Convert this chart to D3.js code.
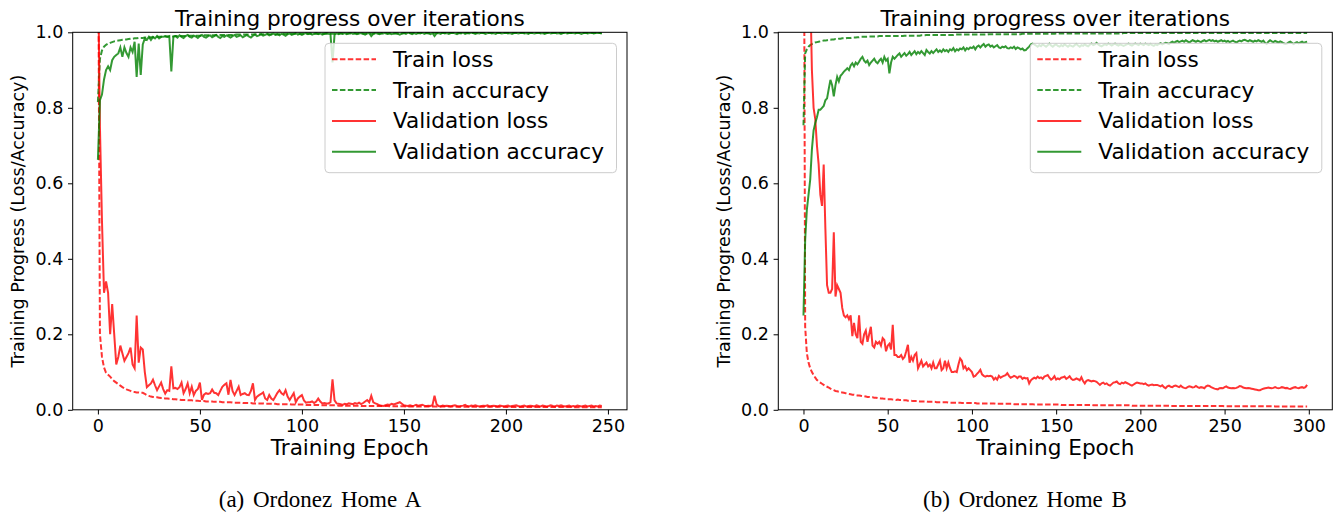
<!DOCTYPE html>
<html>
<head>
<meta charset="utf-8">
<script src="https://cdn.jsdelivr.net/npm/d3@7"></script>
<style>
  body { margin: 0; background: #fff; }
  text { font-family: "DejaVu Sans", sans-serif; fill: #000; }
</style>
</head>
<body>
<svg id="chart" width="1341" height="514"></svg>
<script>
/* DATA */
const yTicks = [0, 0.2, 0.4, 0.6, 0.8, 1.0];
const xTicksA = [0, 50, 100, 150, 200, 250];
const xTicksB = [0, 50, 100, 150, 200, 250, 300];
const seriesNames = ['Train loss', 'Train accuracy', 'Validation loss', 'Validation accuracy'];
const captions = ['(a) Ordonez Home A', '(b) Ordonez Home B'];
const titleText = 'Training progress over iterations';

// Home A, epochs 0..247
const homeA_trainLoss = [
  1.45,0.2,0.14,0.112,0.098,0.093,0.088,0.081,0.076,0.072,
  0.068,0.064,0.06,0.057,0.054,0.052,0.05,0.048,0.047,0.046,
  0.046,0.045,0.045,0.042,0.039,0.037,0.035,0.034,0.033,0.033,
  0.032,0.031,0.031,0.03,0.03,0.029,0.029,0.028,0.028,0.027,
  0.027,0.026,0.026,0.026,0.025,0.025,0.025,0.024,0.024,0.024,
  0.023,0.023,0.023,0.022,0.022,0.022,0.022,0.021,0.021,0.021,
  0.021,0.02,0.02,0.02,0.02,0.02,0.019,0.019,0.019,0.019,
  0.019,0.018,0.018,0.018,0.018,0.018,0.017,0.017,0.017,0.017,
  0.017,0.017,0.016,0.016,0.016,0.016,0.016,0.016,0.015,0.015,
  0.015,0.015,0.015,0.015,0.015,0.014,0.014,0.014,0.014,0.014,
  0.014,0.014,0.013,0.013,0.013,0.013,0.013,0.013,0.013,0.012,
  0.012,0.012,0.012,0.012,0.012,0.012,0.012,0.012,0.011,0.011,
  0.011,0.011,0.011,0.011,0.011,0.011,0.011,0.011,0.011,0.01,
  0.01,0.01,0.01,0.01,0.01,0.01,0.01,0.01,0.01,0.01,
  0.01,0.01,0.01,0.0095,0.0095,0.0095,0.0095,0.0095,0.0095,0.0095,
  0.0095,0.009,0.009,0.009,0.009,0.009,0.009,0.009,0.009,0.009,
  0.009,0.009,0.009,0.0085,0.0085,0.0085,0.0085,0.0085,0.0085,0.0085,
  0.0085,0.0085,0.0085,0.0085,0.0085,0.008,0.008,0.008,0.008,0.008,
  0.008,0.008,0.008,0.008,0.008,0.008,0.008,0.008,0.008,0.008,
  0.0078,0.0078,0.0078,0.0078,0.0078,0.0078,0.0078,0.0078,0.0078,0.0078,
  0.0076,0.0076,0.0076,0.0076,0.0076,0.0076,0.0076,0.0076,0.0076,0.0076,
  0.0075,0.0075,0.0074,0.0074,0.0074,0.0074,0.0073,0.0073,0.0073,0.0073,
  0.0072,0.0072,0.0072,0.0072,0.0072,0.0072,0.0072,0.0072,0.0072,0.0072,
  0.0071,0.0071,0.0071,0.0071,0.007,0.007,0.007,0.007,0.007,0.007,
  0.0069,0.0069,0.0069,0.0068,0.0068,0.0068,0.0068,0.0068
];
const homeA_trainAcc = [
  0.815,0.93,0.952,0.962,0.967,0.97,0.972,0.974,0.976,0.977,
  0.978,0.979,0.98,0.981,0.981,0.982,0.983,0.983,0.984,0.984,
  0.985,0.985,0.985,0.986,0.986,0.986,0.987,0.987,0.987,0.988,
  0.988,0.988,0.988,0.989,0.989,0.989,0.989,0.989,0.99,0.99,
  0.99,0.99,0.99,0.99,0.991,0.991,0.991,0.991,0.991,0.991,
  0.991,0.992,0.992,0.992,0.992,0.992,0.992,0.992,0.993,0.993,
  0.993,0.993,0.993,0.993,0.993,0.993,0.993,0.994,0.994,0.994,
  0.994,0.994,0.994,0.994,0.994,0.994,0.994,0.995,0.995,0.995,
  0.995,0.995,0.995,0.995,0.995,0.995,0.995,0.995,0.995,0.995,
  0.996,0.996,0.996,0.996,0.996,0.996,0.996,0.996,0.996,0.996,
  0.996,0.996,0.996,0.996,0.996,0.996,0.996,0.996,0.996,0.996,
  0.996,0.996,0.996,0.996,0.996,0.996,0.996,0.997,0.997,0.997,
  0.997,0.997,0.997,0.997,0.997,0.997,0.997,0.997,0.997,0.997,
  0.997,0.997,0.997,0.997,0.997,0.997,0.997,0.997,0.997,0.997,
  0.997,0.997,0.997,0.997,0.997,0.997,0.997,0.997,0.997,0.997,
  0.998,0.998,0.998,0.998,0.998,0.998,0.998,0.998,0.998,0.998,
  0.998,0.998,0.998,0.998,0.998,0.998,0.998,0.998,0.998,0.998,
  0.998,0.998,0.998,0.998,0.998,0.998,0.998,0.998,0.998,0.998,
  0.998,0.998,0.998,0.998,0.998,0.998,0.998,0.998,0.998,0.998,
  0.998,0.998,0.998,0.998,0.998,0.998,0.998,0.998,0.998,0.998,
  0.998,0.998,0.998,0.998,0.998,0.998,0.998,0.998,0.998,0.998,
  0.998,0.998,0.998,0.998,0.998,0.998,0.998,0.998,0.998,0.998,
  0.998,0.998,0.998,0.998,0.998,0.998,0.998,0.998,0.998,0.998,
  0.998,0.998,0.998,0.998,0.998,0.998,0.998,0.998,0.998,0.998,
  0.998,0.998,0.998,0.998,0.998,0.998,0.998,0.998
];
const homeA_valLoss = [
  1.2,0.75,0.5,0.31,0.34,0.31,0.2,0.28,0.2,0.12,
  0.14,0.17,0.15,0.13,0.14,0.15,0.165,0.12,0.11,0.25,
  0.125,0.165,0.16,0.1,0.06,0.065,0.07,0.08,0.065,0.052,
  0.062,0.072,0.055,0.043,0.052,0.05,0.115,0.057,0.058,0.055,
  0.06,0.072,0.044,0.055,0.07,0.044,0.061,0.039,0.05,0.055,
  0.072,0.026,0.04,0.044,0.042,0.044,0.054,0.045,0.044,0.039,
  0.05,0.061,0.066,0.07,0.04,0.079,0.05,0.039,0.05,0.061,
  0.039,0.042,0.044,0.04,0.039,0.05,0.07,0.026,0.035,0.039,
  0.042,0.046,0.03,0.026,0.039,0.03,0.026,0.035,0.045,0.052,
  0.044,0.04,0.052,0.035,0.026,0.035,0.044,0.02,0.03,0.035,
  0.039,0.025,0.019,0.02,0.02,0.022,0.018,0.022,0.03,0.022,
  0.017,0.018,0.017,0.017,0.02,0.081,0.025,0.017,0.016,0.015,
  0.013,0.016,0.015,0.017,0.016,0.015,0.018,0.016,0.019,0.015,
  0.018,0.022,0.026,0.02,0.037,0.02,0.017,0.015,0.012,0.011,
  0.01,0.012,0.014,0.013,0.016,0.014,0.016,0.018,0.02,0.016,
  0.012,0.011,0.01,0.012,0.01,0.011,0.013,0.011,0.012,0.013,
  0.011,0.01,0.011,0.01,0.012,0.037,0.015,0.01,0.009,0.011,
  0.01,0.011,0.01,0.009,0.011,0.012,0.01,0.009,0.01,0.011,
  0.013,0.01,0.009,0.011,0.01,0.012,0.01,0.009,0.01,0.011,
  0.01,0.012,0.009,0.01,0.011,0.01,0.009,0.011,0.01,0.009,
  0.01,0.011,0.009,0.01,0.011,0.012,0.01,0.009,0.01,0.011,
  0.009,0.01,0.011,0.01,0.009,0.012,0.01,0.009,0.011,0.01,
  0.009,0.01,0.012,0.01,0.009,0.011,0.01,0.012,0.01,0.009,
  0.01,0.011,0.009,0.01,0.009,0.011,0.01,0.009,0.01,0.011,
  0.009,0.01,0.011,0.009,0.01,0.009,0.011,0.01
];
const homeA_valAcc = [
  0.662,0.82,0.835,0.875,0.9,0.91,0.9,0.926,0.935,0.94,
  0.944,0.96,0.935,0.96,0.945,0.935,0.96,0.948,0.975,0.882,
  0.97,0.887,0.968,0.984,0.98,0.988,0.98,0.988,0.984,0.99,
  0.984,0.988,0.988,0.99,0.988,0.99,0.896,0.988,0.99,0.986,
  0.992,0.988,0.985,0.99,0.993,0.988,0.986,0.991,0.989,0.985,
  0.99,0.993,0.988,0.986,0.99,0.992,0.987,0.99,0.993,0.988,
  0.985,0.99,0.988,0.992,0.989,0.986,0.99,0.993,0.988,0.99,
  0.992,0.987,0.99,0.993,0.989,0.986,0.991,0.994,0.99,0.992,
  0.995,0.991,0.993,0.996,0.992,0.994,0.997,0.993,0.995,0.992,
  0.996,0.994,0.991,0.995,0.997,0.993,0.995,0.998,0.994,0.996,
  0.993,0.996,0.998,0.995,0.997,0.994,0.996,0.998,0.995,0.997,
  0.994,0.996,0.998,0.996,0.995,0.92,0.994,0.997,0.995,0.998,
  0.996,0.998,0.995,0.997,0.999,0.996,0.998,0.995,0.997,0.998,
  0.996,0.994,0.997,0.998,0.99,0.996,0.998,0.997,0.995,0.998,
  0.997,0.999,0.996,0.998,0.995,0.997,0.998,0.996,0.994,0.997,
  0.998,0.996,0.999,0.997,0.995,0.998,0.996,0.998,0.997,0.999,
  0.996,0.998,0.997,0.995,0.998,0.99,0.997,0.998,0.996,0.999,
  0.997,0.998,0.996,0.998,0.999,0.997,0.995,0.998,0.997,0.999,
  0.996,0.998,0.997,0.999,0.998,0.996,0.998,0.997,0.999,0.998,
  0.996,0.998,0.999,0.997,0.998,0.996,0.999,0.998,0.997,0.998,
  0.999,0.997,0.998,0.996,0.998,0.999,0.997,0.998,0.999,0.997,
  0.998,0.996,0.999,0.998,0.997,0.998,0.999,0.997,0.998,0.996,
  0.998,0.999,0.997,0.998,0.999,0.997,0.998,0.996,0.998,0.999,
  0.997,0.998,0.999,0.998,0.997,0.999,0.998,0.996,0.998,0.999,
  0.997,0.998,0.999,0.997,0.998,0.999,0.998,0.997
];

// Home B, epochs 0..299
const homeB_trainLoss = [
  1.8,0.22,0.15,0.125,0.11,0.1,0.092,0.085,0.079,0.075,
  0.072,0.069,0.066,0.063,0.061,0.059,0.056,0.054,0.052,0.05,
  0.049,0.048,0.047,0.046,0.045,0.044,0.043,0.042,0.041,0.04,
  0.04,0.039,0.038,0.038,0.037,0.036,0.036,0.035,0.034,0.034,
  0.033,0.033,0.032,0.032,0.031,0.031,0.03,0.03,0.029,0.029,
  0.028,0.028,0.028,0.027,0.027,0.026,0.027,0.026,0.026,0.025,
  0.025,0.025,0.024,0.024,0.024,0.023,0.023,0.023,0.023,0.022,
  0.022,0.022,0.022,0.022,0.021,0.021,0.021,0.021,0.021,0.02,
  0.02,0.02,0.02,0.02,0.02,0.02,0.019,0.019,0.019,0.019,
  0.019,0.019,0.019,0.019,0.018,0.018,0.018,0.018,0.018,0.018,
  0.018,0.018,0.018,0.017,0.017,0.017,0.017,0.017,0.017,0.017,
  0.017,0.017,0.017,0.017,0.016,0.016,0.016,0.016,0.016,0.016,
  0.016,0.016,0.016,0.016,0.016,0.015,0.015,0.015,0.015,0.015,
  0.015,0.015,0.015,0.015,0.015,0.015,0.015,0.014,0.014,0.014,
  0.014,0.014,0.014,0.014,0.014,0.014,0.014,0.014,0.014,0.014,
  0.014,0.014,0.014,0.013,0.013,0.013,0.013,0.013,0.013,0.013,
  0.013,0.013,0.013,0.013,0.013,0.013,0.013,0.013,0.013,0.013,
  0.013,0.013,0.012,0.012,0.012,0.012,0.012,0.012,0.012,0.012,
  0.012,0.012,0.012,0.012,0.012,0.012,0.012,0.012,0.012,0.012,
  0.012,0.012,0.012,0.012,0.012,0.011,0.011,0.011,0.011,0.011,
  0.011,0.011,0.011,0.011,0.011,0.011,0.011,0.011,0.011,0.011,
  0.011,0.011,0.011,0.011,0.011,0.011,0.011,0.011,0.01,0.01,
  0.01,0.01,0.01,0.01,0.01,0.01,0.01,0.01,0.01,0.01,
  0.01,0.01,0.01,0.01,0.01,0.01,0.01,0.01,0.01,0.01,
  0.01,0.01,0.01,0.01,0.01,0.0098,0.0098,0.0098,0.0098,0.0098,
  0.0096,0.0096,0.0096,0.0096,0.0096,0.0096,0.0096,0.0096,0.0096,0.0096,
  0.0094,0.0094,0.0094,0.0094,0.0094,0.0094,0.0094,0.0094,0.0094,0.0094,
  0.0092,0.0092,0.0092,0.0092,0.0092,0.0092,0.0092,0.0092,0.0092,0.0092,
  0.009,0.009,0.009,0.009,0.009,0.009,0.009,0.009,0.009,0.009,
  0.0088,0.0088,0.0088,0.0088,0.0088,0.0088,0.0088,0.0088,0.0088,0.0088
];
const homeB_trainAcc = [
  0.754,0.944,0.955,0.962,0.966,0.969,0.971,0.973,0.974,0.975,
  0.976,0.977,0.978,0.978,0.979,0.98,0.98,0.981,0.981,0.982,
  0.982,0.983,0.983,0.984,0.984,0.984,0.985,0.985,0.985,0.986,
  0.986,0.986,0.987,0.987,0.988,0.988,0.988,0.988,0.988,0.989,
  0.989,0.989,0.989,0.989,0.989,0.99,0.99,0.99,0.99,0.99,
  0.99,0.99,0.99,0.99,0.99,0.99,0.99,0.99,0.99,0.99,
  0.991,0.991,0.991,0.991,0.991,0.991,0.991,0.991,0.991,0.991,
  0.992,0.992,0.992,0.993,0.993,0.993,0.993,0.993,0.993,0.993,
  0.993,0.993,0.993,0.993,0.993,0.993,0.993,0.993,0.993,0.993,
  0.994,0.994,0.994,0.994,0.994,0.994,0.994,0.994,0.994,0.994,
  0.994,0.994,0.994,0.994,0.994,0.994,0.994,0.994,0.994,0.994,
  0.995,0.995,0.995,0.995,0.995,0.995,0.995,0.995,0.995,0.995,
  0.995,0.995,0.995,0.995,0.995,0.995,0.995,0.995,0.995,0.995,
  0.996,0.996,0.996,0.996,0.996,0.996,0.996,0.996,0.996,0.996,
  0.996,0.996,0.996,0.996,0.996,0.996,0.996,0.996,0.996,0.996,
  0.997,0.997,0.997,0.997,0.997,0.997,0.997,0.997,0.997,0.997,
  0.997,0.997,0.997,0.997,0.997,0.997,0.997,0.997,0.997,0.997,
  0.997,0.997,0.997,0.997,0.997,0.997,0.997,0.997,0.997,0.997,
  0.997,0.997,0.997,0.997,0.997,0.997,0.997,0.997,0.997,0.997,
  0.998,0.998,0.998,0.998,0.998,0.998,0.998,0.998,0.998,0.998,
  0.998,0.998,0.998,0.998,0.998,0.998,0.998,0.998,0.998,0.998,
  0.998,0.998,0.998,0.998,0.998,0.998,0.998,0.998,0.998,0.998,
  0.998,0.998,0.998,0.998,0.998,0.998,0.998,0.998,0.998,0.998,
  0.998,0.998,0.998,0.998,0.998,0.998,0.998,0.998,0.998,0.998,
  0.998,0.998,0.998,0.998,0.998,0.998,0.998,0.998,0.998,0.998,
  0.998,0.998,0.998,0.998,0.998,0.998,0.998,0.998,0.998,0.998,
  0.998,0.998,0.998,0.998,0.998,0.998,0.998,0.998,0.998,0.998,
  0.998,0.998,0.998,0.998,0.998,0.998,0.998,0.998,0.998,0.998,
  0.998,0.998,0.998,0.998,0.998,0.998,0.998,0.998,0.998,0.998,
  0.998,0.998,0.998,0.998,0.998,0.998,0.998,0.998,0.998,0.998
];
const homeB_valLoss = [
  2.4,1.9,1.6,1.35,1.12,0.9,0.8,0.77,0.7,0.65,
  0.57,0.54,0.65,0.48,0.33,0.31,0.31,0.32,0.47,0.3,
  0.33,0.32,0.31,0.27,0.25,0.245,0.25,0.24,0.25,0.195,
  0.23,0.2,0.19,0.25,0.18,0.175,0.2,0.21,0.18,0.2,
  0.22,0.17,0.165,0.18,0.175,0.18,0.17,0.19,0.185,0.155,
  0.17,0.175,0.16,0.225,0.145,0.145,0.14,0.14,0.145,0.135,
  0.14,0.155,0.172,0.125,0.14,0.13,0.145,0.15,0.11,0.12,
  0.13,0.115,0.12,0.125,0.115,0.12,0.11,0.125,0.11,0.11,
  0.12,0.13,0.105,0.11,0.13,0.11,0.125,0.11,0.1,0.1,
  0.102,0.1,0.12,0.136,0.13,0.11,0.115,0.105,0.11,0.105,
  0.1,0.088,0.09,0.095,0.1,0.106,0.094,0.09,0.088,0.09,
  0.089,0.09,0.088,0.08,0.085,0.08,0.09,0.085,0.088,0.09,
  0.092,0.097,0.09,0.085,0.087,0.09,0.088,0.084,0.088,0.088,
  0.082,0.085,0.083,0.084,0.07,0.078,0.082,0.085,0.083,0.088,
  0.084,0.086,0.082,0.088,0.09,0.092,0.085,0.08,0.083,0.089,
  0.08,0.083,0.081,0.085,0.086,0.088,0.082,0.085,0.089,0.082,
  0.079,0.08,0.083,0.081,0.078,0.086,0.076,0.07,0.077,0.079,
  0.077,0.075,0.077,0.076,0.074,0.07,0.066,0.07,0.072,0.068,
  0.07,0.066,0.064,0.068,0.072,0.073,0.075,0.07,0.068,0.072,
  0.07,0.073,0.071,0.069,0.066,0.064,0.067,0.07,0.072,0.071,
  0.07,0.07,0.068,0.07,0.066,0.064,0.066,0.067,0.065,0.066,
  0.066,0.064,0.062,0.065,0.06,0.057,0.062,0.064,0.061,0.06,
  0.063,0.064,0.062,0.06,0.064,0.06,0.058,0.057,0.06,0.062,
  0.061,0.059,0.06,0.063,0.06,0.058,0.06,0.059,0.057,0.062,
  0.064,0.063,0.06,0.058,0.056,0.055,0.054,0.057,0.058,0.057,
  0.06,0.062,0.059,0.058,0.057,0.058,0.057,0.058,0.06,0.063,
  0.062,0.059,0.058,0.057,0.058,0.057,0.056,0.055,0.054,0.053,
  0.052,0.052,0.054,0.056,0.057,0.058,0.059,0.058,0.057,0.058,
  0.06,0.058,0.057,0.058,0.06,0.059,0.057,0.058,0.056,0.055,
  0.057,0.059,0.06,0.058,0.057,0.059,0.06,0.058,0.06,0.066
];
const homeB_valAcc = [
  0.25,0.45,0.53,0.57,0.61,0.69,0.74,0.76,0.775,0.795,
  0.795,0.8,0.805,0.82,0.825,0.85,0.874,0.86,0.83,0.86,
  0.882,0.87,0.885,0.89,0.896,0.9,0.905,0.9,0.912,0.918,
  0.91,0.92,0.915,0.922,0.93,0.935,0.925,0.92,0.925,0.913,
  0.92,0.925,0.93,0.922,0.918,0.925,0.93,0.92,0.935,0.925,
  0.93,0.891,0.92,0.935,0.93,0.935,0.94,0.944,0.935,0.94,
  0.945,0.938,0.942,0.948,0.94,0.945,0.95,0.942,0.948,0.944,
  0.95,0.945,0.94,0.953,0.948,0.944,0.95,0.945,0.95,0.955,
  0.948,0.952,0.948,0.955,0.95,0.953,0.948,0.955,0.952,0.958,
  0.95,0.955,0.952,0.957,0.955,0.96,0.952,0.958,0.955,0.96,
  0.958,0.962,0.955,0.962,0.965,0.96,0.965,0.969,0.962,0.966,
  0.968,0.962,0.965,0.96,0.963,0.966,0.96,0.958,0.962,0.96,
  0.963,0.958,0.957,0.96,0.958,0.962,0.956,0.96,0.958,0.955,
  0.957,0.952,0.953,0.958,0.962,0.968,0.97,0.968,0.965,0.962,
  0.966,0.963,0.968,0.965,0.962,0.966,0.97,0.965,0.962,0.966,
  0.968,0.964,0.962,0.966,0.963,0.968,0.965,0.962,0.966,0.964,
  0.962,0.966,0.969,0.965,0.962,0.966,0.964,0.968,0.965,0.963,
  0.967,0.97,0.966,0.968,0.972,0.968,0.965,0.963,0.966,0.968,
  0.966,0.97,0.968,0.965,0.968,0.97,0.967,0.965,0.968,0.966,
  0.964,0.966,0.968,0.97,0.967,0.965,0.968,0.97,0.968,0.966,
  0.97,0.968,0.966,0.97,0.968,0.966,0.969,0.966,0.964,0.968,
  0.966,0.969,0.971,0.968,0.97,0.972,0.971,0.969,0.973,0.975,
  0.972,0.975,0.977,0.974,0.976,0.978,0.975,0.979,0.976,0.973,
  0.976,0.979,0.977,0.975,0.978,0.976,0.974,0.977,0.979,0.976,
  0.978,0.98,0.977,0.979,0.976,0.978,0.975,0.977,0.979,0.976,
  0.978,0.975,0.977,0.974,0.976,0.978,0.975,0.973,0.976,0.978,
  0.976,0.979,0.98,0.978,0.976,0.979,0.977,0.975,0.978,0.976,
  0.979,0.977,0.975,0.978,0.972,0.969,0.975,0.979,0.976,0.974,
  0.977,0.975,0.973,0.976,0.974,0.971,0.969,0.97,0.973,0.975,
  0.972,0.969,0.972,0.974,0.971,0.973,0.975,0.972,0.974,0.975
];

/* LAYOUT */
const plotTop = 32.3, plotBottom = 409.8;
const styles = [
  { color: 'red',   dash: '5.5,2.4' },
  { color: 'green', dash: '5.5,2.4' },
  { color: 'red',   dash: null },
  { color: 'green', dash: null }
];

const panels = [
  { left: 72.7, right: 627, xTicks: xTicksA, caption: captions[0], captionX: 320,
    series: [homeA_trainLoss, homeA_trainAcc, homeA_valLoss, homeA_valAcc] },
  { left: 778.3, right: 1332.3, xTicks: xTicksB, caption: captions[1], captionX: 1025,
    series: [homeB_trainLoss, homeB_trainAcc, homeB_valLoss, homeB_valAcc] }
];

const svg = d3.select('#chart');

panels.forEach((p, i) => drawPanel(p, i));

function drawPanel(p, i) {
  const n = p.series[0].length - 1;
  // matplotlib default 5% margins on x
  const xScale = d3.scaleLinear()
    .domain([-0.05 * n, 1.05 * n])
    .range([p.left, p.right]);
  const yScale = d3.scaleLinear()
    .domain([0, 1])
    .range([plotBottom, plotTop]);

  const g = svg.append('g');

  g.append('clipPath').attr('id', 'clip' + i)
    .append('rect')
    .attr('x', p.left).attr('y', plotTop)
    .attr('width', p.right - p.left).attr('height', plotBottom - plotTop);

  const line = d3.line()
    .x((d, k) => xScale(k))
    .y(d => yScale(d));

  g.append('g')
    .attr('clip-path', `url(#clip${i})`)
    .selectAll('path')
    .data(p.series)
    .join('path')
    .attr('d', d => line(d))
    .attr('fill', 'none')
    .attr('stroke', (d, k) => styles[k].color)
    .attr('stroke-opacity', 0.8)
    .attr('stroke-width', 2)
    .attr('stroke-dasharray', (d, k) => styles[k].dash);

  // axes
  const xAxis = d3.axisBottom(xScale)
    .tickValues(p.xTicks)
    .tickFormat(d3.format('d'))
    .tickSize(4.7).tickSizeOuter(0).tickPadding(4.7);
  const yAxis = d3.axisLeft(yScale)
    .tickValues(yTicks)
    .tickFormat(d3.format('.1f'))
    .tickSize(4.7).tickSizeOuter(0).tickPadding(4.7);

  const gx = g.append('g')
    .attr('transform', `translate(0,${plotBottom})`)
    .call(xAxis);
  const gy = g.append('g')
    .attr('transform', `translate(${p.left},0)`)
    .call(yAxis);

  [gx, gy].forEach(a => {
    a.attr('font-size', 17.5).attr('font-family', null);
    a.select('.domain').remove();
    a.selectAll('line').attr('stroke', '#000').attr('stroke-width', 1);
  });

  // frame (spines)
  g.append('rect')
    .attr('x', p.left).attr('y', plotTop)
    .attr('width', p.right - p.left).attr('height', plotBottom - plotTop)
    .attr('fill', 'none').attr('stroke', '#000').attr('stroke-width', 1);

  const cx = (p.left + p.right) / 2;

  g.append('text')
    .attr('x', cx).attr('y', 26)
    .attr('text-anchor', 'middle')
    .attr('font-size', 21.6)
    .text(titleText);

  g.append('text')
    .attr('x', cx).attr('y', 455)
    .attr('text-anchor', 'middle')
    .attr('font-size', 21.6)
    .text('Training Epoch');

  g.append('text')
    .attr('transform', `translate(${p.left - 48.5},${(plotTop + plotBottom) / 2}) rotate(-90)`)
    .attr('text-anchor', 'middle')
    .attr('font-size', 17.5)
    .text('Training Progress (Loss/Accuracy)');

  // legend
  const lw = 291.5, lh = 129.4;
  const legend = g.append('g')
    .attr('transform', `translate(${p.right - 10.5 - lw},43.3)`);
  legend.append('rect')
    .attr('width', lw).attr('height', lh).attr('rx', 4)
    .attr('fill', '#fff').attr('fill-opacity', 0.8)
    .attr('stroke', '#cccccc').attr('stroke-width', 1);

  const items = legend.selectAll('g.item')
    .data(seriesNames)
    .join('g')
    .attr('class', 'item')
    .attr('transform', (d, k) => `translate(0,${16 + k * 30.8})`);
  items.append('line')
    .attr('x1', 7).attr('x2', 51)
    .attr('stroke', (d, k) => styles[k].color)
    .attr('stroke-opacity', 0.8)
    .attr('stroke-width', 2)
    .attr('stroke-dasharray', (d, k) => styles[k].dash);
  items.append('text')
    .attr('x', 68).attr('dy', '0.35em')
    .attr('font-size', 21.6)
    .text(d => d);

  // caption under the panel
  svg.append('text')
    .attr('x', p.captionX).attr('y', 507)
    .attr('text-anchor', 'middle')
    .attr('font-size', 23)
    .attr('word-spacing', 3)
    .style('font-family', '"Liberation Serif", "Times New Roman", serif')
    .text(p.caption);
}
</script>
</body>
</html>
